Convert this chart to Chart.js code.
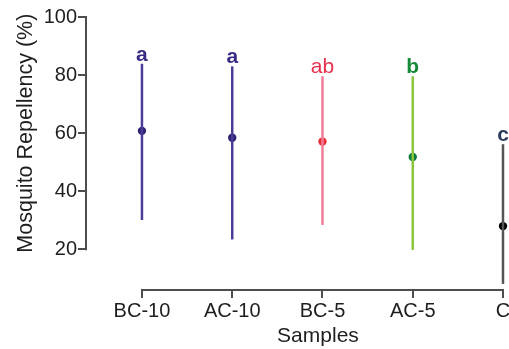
<!DOCTYPE html>
<html><head><meta charset="utf-8">
<script src="https://cdn.jsdelivr.net/npm/chart.js@4.4.0/dist/chart.umd.min.js"></script>
<style>html,body{margin:0;padding:0;background:#fff;}#wrap{width:509px;height:349px;position:relative;}</style>
</head><body><div id="wrap"><canvas id="c" width="509" height="349"></canvas></div>
<script>
const categories = ['BC-10', 'AC-10', 'BC-5', 'AC-5', 'C'];
const means = [60.8, 58.4, 57.1, 51.8, 28.0];
const upper = [83.9, 83.0, 79.6, 79.6, 56.2];
const lower = [30.1, 23.4, 28.4, 19.8, 8.1];
const letters = ['a', 'a', 'ab', 'b', 'c'];
const yTicks = [20, 40, 60, 80, 100];
const yTitle = 'Mosquito Repellency (%)';
const xTitle = 'Samples';

const lineColors = ['#4b3d97', '#4b3d97', '#f27b97', '#8cc63f', '#555555'];
const dotColors = ['#2f2373', '#2f2373', '#e8303a', '#0b7a3a', '#000000'];
const letterColors = ['#3a2c85', '#3a2c85', '#e8304f', '#178a3a', '#2d3c5e'];
const letterWeights = ['bold', 'bold', 'normal', 'bold', 'bold'];

const FONT = '"Liberation Sans", Arial, Helvetica, sans-serif';
const AXIS_COLOR = '#4d4d4d';

const datasets = categories.map((c, i) => ({
  label: c,
  data: [{x: i, y: lower[i]}, {x: i, y: upper[i]}],
  showLine: true,
  borderColor: lineColors[i],
  borderWidth: 2.5,
  pointRadius: 0,
  clip: false
}));
datasets.push({
  label: 'mean',
  data: means.map((m, i) => ({x: i, y: m})),
  showLine: false,
  pointRadius: 4.2,
  pointBackgroundColor: dotColors,
  pointBorderWidth: 0,
  clip: false
});

const decor = {
  id: 'decor',
  afterDraw(chart) {
    const ctx = chart.ctx;
    const xs = chart.scales.x, ys = chart.scales.y;
    const area = chart.chartArea;
    ctx.save();
    ctx.strokeStyle = AXIS_COLOR;
    ctx.lineWidth = 2;
    ctx.lineCap = 'butt';
    ctx.beginPath();
    ctx.moveTo(area.left, ys.getPixelForValue(yTicks[yTicks.length - 1]) - 1);
    ctx.lineTo(area.left, ys.getPixelForValue(yTicks[0]) + 1);
    ctx.stroke();
    ctx.beginPath();
    ctx.moveTo(xs.getPixelForValue(0) - 1, area.bottom);
    ctx.lineTo(xs.getPixelForValue(categories.length - 1) + 1, area.bottom);
    ctx.stroke();
    ctx.textAlign = 'center';
    ctx.textBaseline = 'alphabetic';
    letters.forEach((l, i) => {
      ctx.font = letterWeights[i] + ' 21px ' + FONT;
      ctx.fillStyle = letterColors[i];
      ctx.fillText(l, xs.getPixelForValue(i), ys.getPixelForValue(upper[i]) - 3);
    });
    ctx.fillStyle = '#1e1e1e';
    ctx.font = '21.5px ' + FONT;
    ctx.save();
    ctx.translate(32, (ys.getPixelForValue(20) + ys.getPixelForValue(100)) / 2);
    ctx.rotate(-Math.PI / 2);
    ctx.textAlign = 'center';
    ctx.textBaseline = 'alphabetic';
    ctx.fillText(yTitle, 0, 0);
    ctx.restore();
    ctx.font = '21px ' + FONT;
    ctx.textAlign = 'center';
    ctx.textBaseline = 'alphabetic';
    ctx.fillText(xTitle, xs.getPixelForValue(1.95), 342);
    ctx.restore();
  }
};

new Chart(document.getElementById('c'), {
  type: 'scatter',
  data: {datasets},
  plugins: [decor],
  options: {
    responsive: false,
    animation: false,
    devicePixelRatio: 1,
    layout: {padding: {top: 17, right: 6, left: 0, bottom: 0}},
    plugins: {legend: {display: false}, tooltip: {enabled: false}},
    scales: {
      x: {
        type: 'linear',
        min: -0.62,
        max: categories.length - 1,
        afterBuildTicks: s => { s.ticks = categories.map((_, i) => ({value: i})); },
        afterFit: s => { s.height = 59; s.paddingLeft = 0; s.paddingRight = 0; },
        ticks: {
          callback: v => categories[v] !== undefined ? categories[v] : '',
          font: {family: FONT, size: 20},
          color: '#1e1e1e',
          padding: 1,
          maxRotation: 0,
          autoSkip: false
        },
        grid: {display: true, drawOnChartArea: false, drawTicks: true, tickLength: 8, color: AXIS_COLOR, lineWidth: 2},
        border: {display: false}
      },
      y: {
        type: 'linear',
        min: 6,
        max: 100,
        afterBuildTicks: s => { s.ticks = yTicks.map(v => ({value: v})); },
        afterFit: s => { s.width = 86; s.paddingTop = 0; s.paddingBottom = 0; },
        ticks: {
          font: {family: FONT, size: 20},
          color: '#1e1e1e',
          padding: 1
        },
        grid: {display: true, drawOnChartArea: false, drawTicks: true, tickLength: 8, color: AXIS_COLOR, lineWidth: 2},
        border: {display: false}
      }
    }
  }
});
</script>
</body></html>
